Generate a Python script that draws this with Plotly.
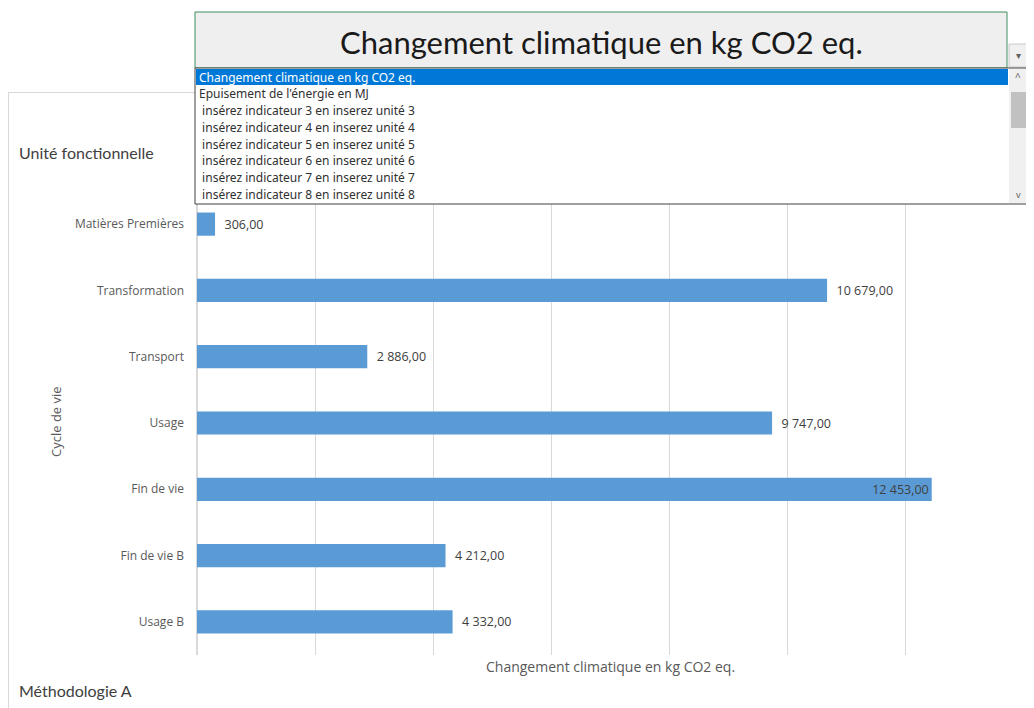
import plotly.graph_objects as go

categories = ["Matières Premières", "Transformation", "Transport", "Usage",
              "Fin de vie", "Fin de vie B", "Usage B"]
values = [306.00, 10679.00, 2886.00, 9747.00, 12453.00, 4212.00, 4332.00]
label_positions = ["outside", "outside", "outside", "outside", "inside", "outside", "outside"]
x_ticks = [0, 2000, 4000, 6000, 8000, 10000, 12000, 14000]

selected_indicator = "Changement climatique en kg CO2 eq."
menu_items = [
    "Changement climatique en kg CO2 eq.",
    "Epuisement de l'énergie en MJ",
    " insérez indicateur 3 en inserez unité 3",
    " insérez indicateur 4 en inserez unité 4",
    " insérez indicateur 5 en inserez unité 5",
    " insérez indicateur 6 en inserez unité 6",
    " insérez indicateur 7 en inserez unité 7",
    " insérez indicateur 8 en inserez unité 8",
]

# the page body adds an 8px margin; work in screen coordinates and offset
OFF = 8
W, H = 1034 - 2 * OFF, 708 - OFF
PLOT_X0, PLOT_X1, PLOT_Y0, PLOT_Y1 = 197, 1023, 191, 655  # screen px
L = PLOT_X0 - OFF
R = W - (PLOT_X1 - OFF)
T = PLOT_Y0 - OFF
B = H - (PLOT_Y1 - OFF)
PW, PH = W - L - R, H - T - B


def px(x):
    return (x - OFF - L) / PW


def py(y):
    return (H - B - (y - OFF)) / PH


FONT = "Lato, 'Open Sans', sans-serif"
FONT2 = "'Open Sans', Lato, sans-serif"
UI_FONT = "'Noto Sans', 'Open Sans', sans-serif"

label_templates = ["  %{x:,.2f}" if p == "outside" else "%{x:,.2f}" for p in label_positions]

fig = go.Figure(go.Bar(
    x=values, y=categories, orientation="h",
    marker=dict(color="#5b9bd5", line=dict(width=0)),
    texttemplate=label_templates, textposition=label_positions,
    textfont=dict(size=12.5, color="#404040", family=FONT2),
    insidetextanchor="end", cliponaxis=False,
))

shapes = []
annotations = []

# chart frame (left and top borders)
shapes.append(dict(type="line", xref="paper", yref="paper", x0=px(8.5), x1=px(8.5), y0=py(92), y1=py(708),
                   line=dict(color="#d9d9d9", width=1), layer="below"))
shapes.append(dict(type="line", xref="paper", yref="paper", x0=px(8), x1=px(1034), y0=py(92.5), y1=py(92.5),
                   line=dict(color="#d9d9d9", width=1), layer="below"))

# dropdown header box
shapes.append(dict(type="rect", xref="paper", yref="paper", x0=px(195), x1=px(1007), y0=py(12), y1=py(68),
                   fillcolor="#efefef", line=dict(color="#3e8e5e", width=1), layer="above"))
annotations.append(dict(xref="paper", yref="paper", x=px(601), y=py(42), text=selected_indicator,
                        showarrow=False, font=dict(size=31, color="#1a1a1a", family=FONT),
                        xanchor="center", yanchor="middle"))
# arrow button
shapes.append(dict(type="rect", xref="paper", yref="paper", x0=px(1009), x1=px(1030), y0=py(44), y1=py(67),
                   fillcolor="#f0f0f0", line=dict(color="#c8c8c8", width=1), layer="above"))
annotations.append(dict(xref="paper", yref="paper", x=px(1018), y=py(55), text="▾",
                        showarrow=False, font=dict(size=10, color="#606060", family=UI_FONT),
                        xanchor="center", yanchor="middle"))

# list box
shapes.append(dict(type="rect", xref="paper", yref="paper", x0=px(195), x1=px(1030), y0=py(68), y1=py(204),
                   fillcolor="#ffffff", line=dict(color="#404040", width=1), layer="above"))
shapes.append(dict(type="rect", xref="paper", yref="paper", x0=px(196), x1=px(1008), y0=py(69), y1=py(85),
                   fillcolor="#0078d7", line=dict(width=0), layer="above"))
# scrollbar
shapes.append(dict(type="rect", xref="paper", yref="paper", x0=px(1009), x1=px(1029), y0=py(69), y1=py(203),
                   fillcolor="#f0f0f0", line=dict(width=0), layer="above"))
shapes.append(dict(type="rect", xref="paper", yref="paper", x0=px(1011), x1=px(1027), y0=py(92), y1=py(128),
                   fillcolor="#c1c1c1", line=dict(width=0), layer="above"))
annotations.append(dict(xref="paper", yref="paper", x=px(1018), y=py(77), text="^",
                        showarrow=False, font=dict(size=10, color="#606060", family=UI_FONT),
                        xanchor="center", yanchor="middle"))
annotations.append(dict(xref="paper", yref="paper", x=px(1018), y=py(194), text="v",
                        showarrow=False, font=dict(size=9, color="#606060", family=UI_FONT),
                        xanchor="center", yanchor="middle"))

for i, item in enumerate(menu_items):
    ycen = 77 + i * 16.8
    annotations.append(dict(xref="paper", yref="paper", x=px(197), y=py(ycen), text=item,
                            showarrow=False,
                            font=dict(size=12, color="#ffffff" if i == 0 else "#303030", family=UI_FONT),
                            xanchor="left", yanchor="middle"))

# side texts
annotations.append(dict(xref="paper", yref="paper", x=px(17), y=py(152), text="Unité fonctionnelle",
                        showarrow=False, font=dict(size=16, color="#404040", family=FONT),
                        xanchor="left", yanchor="middle"))
annotations.append(dict(xref="paper", yref="paper", x=px(17), y=py(690), text="Méthodologie A",
                        showarrow=False, font=dict(size=16, color="#404040", family=FONT),
                        xanchor="left", yanchor="middle"))
annotations.append(dict(xref="paper", yref="paper", x=px(56), y=py(422), text="Cycle de vie",
                        showarrow=False, textangle=-90, font=dict(size=13, color="#595959", family=FONT2),
                        xanchor="center", yanchor="middle"))
annotations.append(dict(xref="paper", yref="paper", x=0.5, y=py(666), text=selected_indicator,
                        showarrow=False, font=dict(size=14, color="#595959", family=FONT2),
                        xanchor="center", yanchor="middle"))

fig.update_layout(
    width=W, height=H,
    margin=dict(l=L, r=R, t=T, b=B, autoexpand=False),
    paper_bgcolor="#ffffff", plot_bgcolor="#ffffff",
    separators=", ",
    bargap=0.65,
    showlegend=False,
    font=dict(family=FONT2, color="#595959"),
    xaxis=dict(range=[0, 14000], tickvals=x_ticks, showticklabels=False, showgrid=True,
               gridcolor="#d9d9d9", gridwidth=1, zeroline=True, zerolinecolor="#d9d9d9",
               showline=False, ticks=""),
    yaxis=dict(autorange="reversed", showgrid=False, ticks="", ticklabelstandoff=12,
               tickfont=dict(size=12, color="#595959", family=FONT2), showline=False),
    shapes=shapes,
    annotations=annotations,
)

fig.write_html("out.html")
